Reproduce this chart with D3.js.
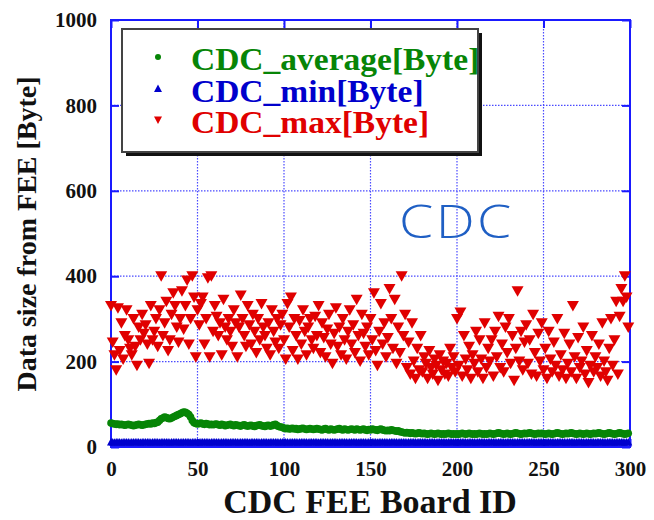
<!DOCTYPE html>
<html><head><meta charset="utf-8">
<script src="https://cdn.jsdelivr.net/npm/d3@7"></script>
<style>html,body{margin:0;padding:0;background:#fff;}svg{display:block;}</style>
</head><body>
<script>
// ---- data ----
const xTicks = [0, 50, 100, 150, 200, 250, 300];
const yTicks = [0, 200, 400, 600, 800, 1000];
const seriesNames = ["CDC_average[Byte]", "CDC_min[Byte]", "CDC_max[Byte]"];
const xLabel = "CDC FEE Board ID";
const yLabel = "Data size from FEE [Byte]";
const annotation = "CDC";

const avgValues = [
56,55,54,53,54,52,53,52,51,52,53,52,51,50,51,52,53,52,51,52,
53,54,55,54,56,55,57,58,62,66,68,70,69,67,66,68,70,72,74,76,
78,80,82,81,79,76,70,62,57,55,54,55,56,54,53,55,54,52,53,52,
53,54,52,51,53,52,50,51,52,53,51,50,52,51,50,49,51,52,50,49,
50,51,49,48,50,51,52,50,49,48,50,51,49,50,52,53,50,48,47,46,
44,43,44,42,43,44,42,43,41,42,43,44,42,41,42,43,42,41,42,43,
42,41,40,42,43,41,40,42,41,40,41,42,43,41,40,42,41,40,41,42,
41,40,42,41,40,41,42,40,39,41,40,42,41,40,39,41,42,40,39,38,
39,38,40,39,38,37,38,36,35,34,33,34,33,32,33,32,31,32,33,32,
31,32,31,30,31,32,31,30,31,32,31,30,31,30,31,32,31,30,31,30,
31,30,31,32,31,30,31,32,31,30,31,30,31,32,31,30,31,30,31,32,
31,30,31,32,33,32,31,30,31,32,31,30,31,32,33,32,31,30,31,32,
31,32,33,32,31,30,31,32,31,32,31,30,31,32,31,30,31,32,33,32,
31,30,31,32,31,32,33,32,31,30,31,32,31,30,31,32,31,30,31,32,
31,32,33,32,31,30,31,32,33,32,31,30,31,32,33,32,31,30,31,32];

const minValues = [
12,12,11,12,12,12,11,12,12,12,12,11,12,12,12,12,12,11,12,12,
12,12,12,11,12,12,12,12,11,12,12,12,12,12,11,12,12,12,12,12,
11,12,12,12,12,12,11,12,12,12,12,11,12,12,12,12,12,11,12,12,
12,12,12,11,12,12,12,12,11,12,12,12,12,12,11,12,12,12,12,12,
11,12,12,12,12,12,11,12,12,12,12,11,12,12,12,12,12,11,12,12,
12,12,12,11,12,12,12,12,11,12,12,12,12,12,11,12,12,12,12,12,
11,12,12,12,12,12,11,12,12,12,12,11,12,12,12,12,12,11,12,12,
12,12,12,11,12,12,12,12,11,12,12,12,12,12,11,12,12,12,12,12,
11,12,12,12,12,12,11,12,12,12,12,11,12,12,12,12,12,11,12,12,
12,12,12,11,12,12,12,12,11,12,12,12,12,12,11,12,12,12,12,12,
11,12,12,12,12,12,11,12,12,12,12,11,12,12,12,12,12,11,12,12,
12,12,12,11,12,12,12,12,11,12,12,12,12,12,11,12,12,12,12,12,
11,12,12,12,12,12,11,12,12,12,12,11,12,12,12,12,12,11,12,12,
12,12,12,11,12,12,12,12,11,12,12,12,12,12,11,12,12,12,12,12,
11,12,12,12,12,12,11,12,12,12,12,11,12,12,12,12,12,11,12,12];

const maxValues = [
330,245,215,180,325,225,290,205,260,320,250,230,215,300,235,190,280,250,310,265,
285,240,195,330,250,270,300,235,320,400,260,290,340,225,250,310,360,330,280,245,
300,365,275,330,390,240,300,400,350,210,320,285,335,350,240,300,395,210,400,270,
330,305,260,290,215,345,280,250,300,270,235,320,290,210,280,355,300,260,235,330,
285,240,310,270,220,300,250,335,280,260,230,290,215,320,270,245,300,230,285,310,
250,205,335,280,350,225,300,260,205,295,240,320,270,215,280,300,250,230,305,260,
330,220,290,255,210,275,310,240,195,265,325,235,280,215,300,250,205,270,320,240,
285,220,345,260,200,310,265,235,280,215,300,250,360,225,190,270,335,240,290,210,
255,370,300,230,345,195,280,220,400,260,310,185,245,170,290,200,160,230,180,260,
175,210,195,160,225,185,170,205,190,155,215,180,200,170,195,165,230,185,210,175,
300,190,315,165,260,205,180,235,160,215,195,270,175,250,205,160,290,185,230,200,
250,165,270,210,305,185,240,175,280,220,300,195,260,155,230,365,200,270,180,245,
285,195,250,170,310,220,165,265,200,290,180,230,160,270,205,175,245,190,300,165,
215,180,265,160,195,240,175,330,210,160,255,185,200,280,170,225,150,190,260,175,
210,185,240,165,290,200,175,155,230,300,190,250,340,170,305,370,340,400,350,280];

// ---- layout ----
const W = 654, H = 520;
const L = 111, R = 630, T = 20, B = 447;
const cGreen = "#078507", cBlue = "#0000cc", cRed = "#e00000", cFrame = "#1a1aff";
const serif = "'Liberation Serif','Times New Roman',serif";

const svg = d3.select("body").append("svg").attr("width", W).attr("height", H);
const x = d3.scaleLinear().domain([0, 300]).range([L, R]);
const y = d3.scaleLinear().domain([0, 1000]).range([B, T]);

// grid
const g = svg.append("g");
g.selectAll("line.gx").data(xTicks.slice(1, -1)).join("line")
  .attr("x1", d => x(d)).attr("x2", d => x(d)).attr("y1", T).attr("y2", B)
  .attr("stroke", "#4a4aff").attr("stroke-width", 1.2).attr("stroke-dasharray", "1.5,1.5");
g.selectAll("line.gy").data(yTicks.slice(1, -1)).join("line")
  .attr("y1", d => y(d)).attr("y2", d => y(d)).attr("x1", L).attr("x2", R)
  .attr("stroke", "#4a4aff").attr("stroke-width", 1.2).attr("stroke-dasharray", "1.5,1.5");

// axes (ticks inside)
const tickLen = 8;
svg.append("g").attr("transform", `translate(0,${T})`)
  .call(d3.axisTop(x).tickValues(xTicks).tickSize(-tickLen).tickFormat(""))
  .call(a => { a.select(".domain").remove(); a.selectAll("line").attr("stroke", cFrame).attr("stroke-width", 2); });
svg.append("g").attr("transform", `translate(${R},0)`)
  .call(d3.axisRight(y).tickValues(yTicks).tickSize(-tickLen).tickFormat(""))
  .call(a => { a.select(".domain").remove(); a.selectAll("line").attr("stroke", cFrame).attr("stroke-width", 2); });
const yAx = svg.append("g").attr("transform", `translate(${L},0)`)
  .call(d3.axisLeft(y).tickValues(yTicks).tickSize(-tickLen).tickPadding(14).tickFormat(d3.format("d")));
yAx.select(".domain").remove();
yAx.selectAll("line").attr("stroke", cFrame).attr("stroke-width", 2);
yAx.selectAll("text").attr("font-family", serif).attr("font-weight", "bold").attr("font-size", 21).attr("fill", "#111");
const xAx = svg.append("g").attr("transform", `translate(0,${B})`)
  .call(d3.axisBottom(x).tickValues(xTicks).tickSize(-tickLen).tickPadding(14).tickFormat(d3.format("d")));
xAx.select(".domain").remove();
xAx.selectAll("line").attr("stroke", cFrame).attr("stroke-width", 2);
xAx.selectAll("text").attr("font-family", serif).attr("font-weight", "bold").attr("font-size", 21).attr("fill", "#111");

// frame
svg.append("rect").attr("x", L).attr("y", T).attr("width", R - L).attr("height", B - T)
  .attr("fill", "none").attr("stroke", cFrame).attr("stroke-width", 2);

// data marks
const idx = d3.range(maxValues.length);
const downTri = "M-6,-5L6,-5L0,5.5Z";
const upTri = "M-4,3.5L4,3.5L0,-4Z";
svg.append("g").selectAll("path").data(idx).join("path")
  .attr("d", upTri).attr("fill", cBlue)
  .attr("transform", i => `translate(${x(i)},${y(minValues[i])})`);
svg.append("g").selectAll("circle").data(idx).join("circle")
  .attr("cx", i => x(i)).attr("cy", i => y(avgValues[i])).attr("r", 3.8).attr("fill", cGreen);
svg.append("g").selectAll("path").data(idx).join("path")
  .attr("d", downTri).attr("fill", cRed)
  .attr("transform", i => `translate(${x(i)},${y(maxValues[i])})`);

// axis titles
svg.append("text").attr("x", 370).attr("y", 513).attr("text-anchor", "middle")
  .attr("font-family", serif).attr("font-weight", "bold").attr("font-size", 34).attr("fill", "#111").text(xLabel);
svg.append("text").attr("transform", "translate(36,234) rotate(-90)").attr("text-anchor", "middle")
  .attr("font-family", serif).attr("font-weight", "bold").attr("font-size", 28).attr("fill", "#111").text(yLabel);

// annotation
svg.append("text").attr("transform", "translate(399,238) scale(1.2,1)").attr("font-family", "'Open Sans',sans-serif")
  .attr("font-weight", 300).attr("font-size", 46).attr("letter-spacing", 2).attr("fill", "#1f5fc4").text(annotation);

// legend
const lg = svg.append("g");
lg.append("rect").attr("x", 126).attr("y", 33).attr("width", 356).attr("height", 123).attr("fill", "#111");
lg.append("rect").attr("x", 122).attr("y", 29).attr("width", 356).attr("height", 123)
  .attr("fill", "#fff").attr("stroke", "#444").attr("stroke-width", 2);
const legColors = [cGreen, cBlue, cRed];
const rowY = [70, 101.5, 133];
lg.append("circle").attr("cx", 158).attr("cy", rowY[0] - 13).attr("r", 3).attr("fill", cGreen);
lg.append("path").attr("d", "M-4,3.5L4,3.5L0,-4Z").attr("fill", cBlue).attr("transform", `translate(158,${rowY[1] - 13})`);
lg.append("path").attr("d", "M-4,-3.5L4,-3.5L0,4Z").attr("fill", cRed).attr("transform", `translate(158,${rowY[2] - 13})`);
const legFont = 28.4;
lg.selectAll("text").data(seriesNames).join("text")
  .attr("transform", (d, i) => `translate(191,${rowY[i]}) scale(1.18,1.1)`)
  .attr("font-family", serif).attr("font-weight", "bold")
  .attr("font-size", legFont).attr("fill", (d, i) => legColors[i]).text(d => d);
</script>
</body></html>
